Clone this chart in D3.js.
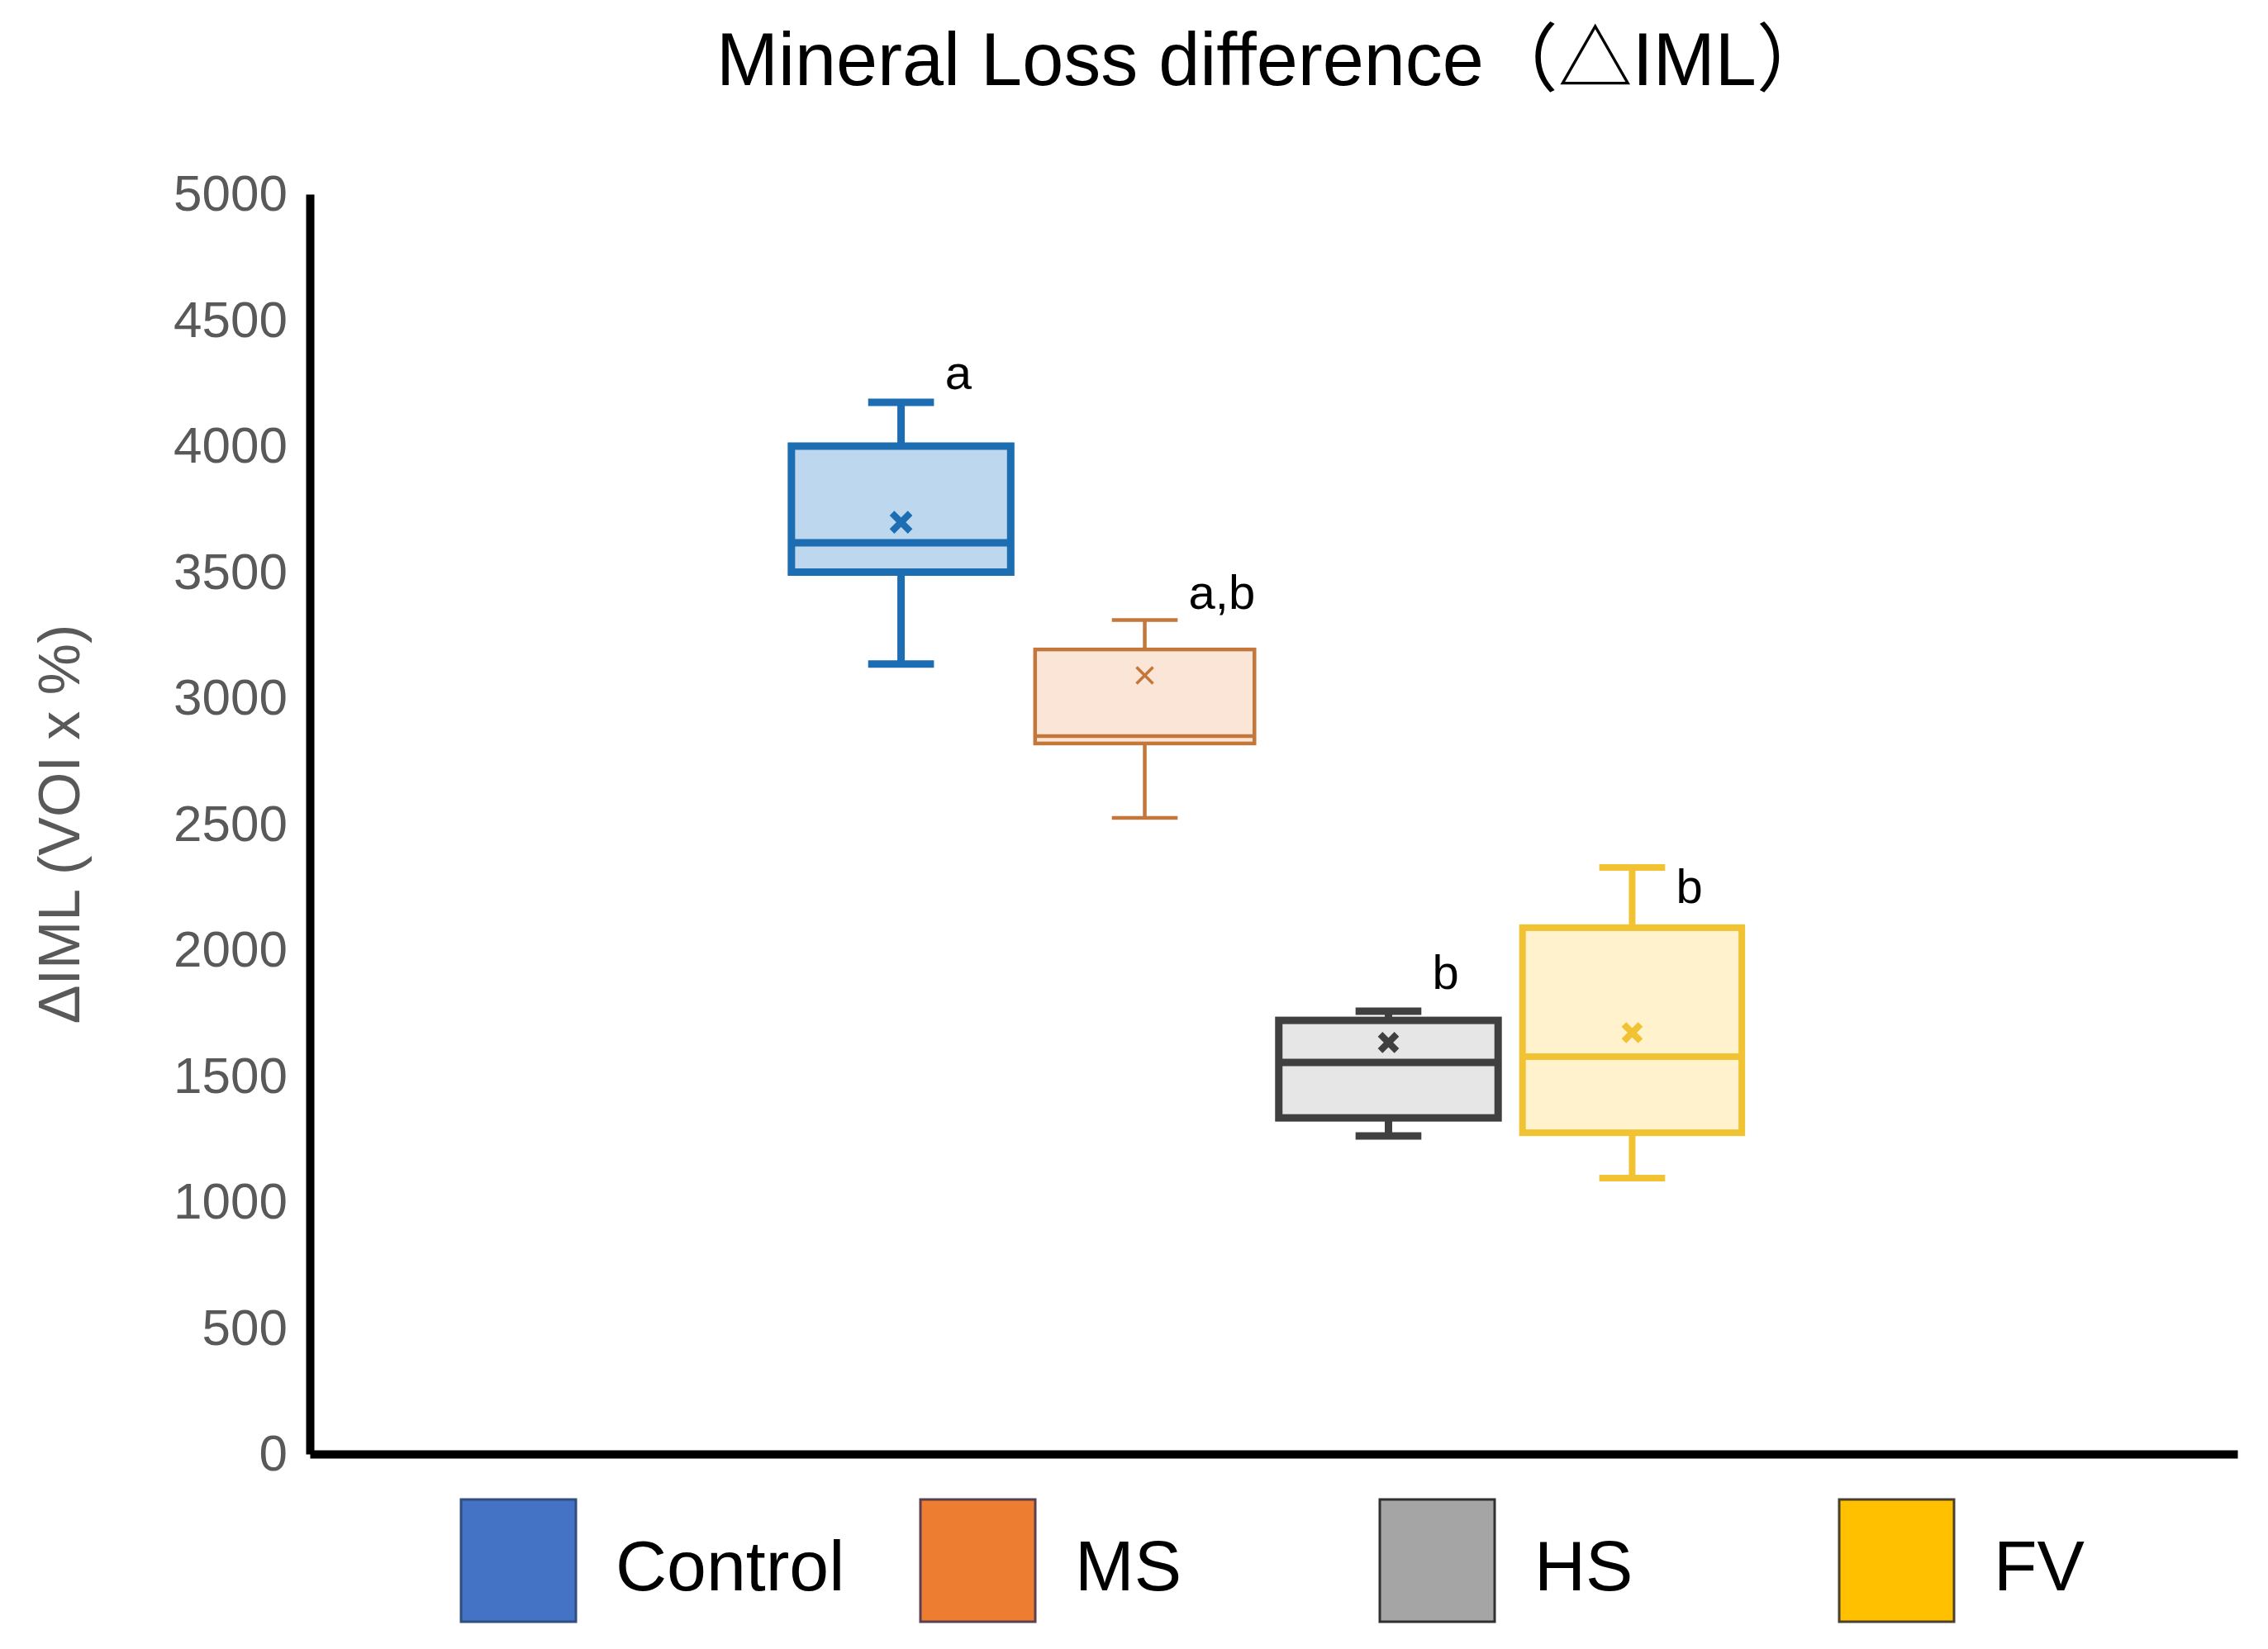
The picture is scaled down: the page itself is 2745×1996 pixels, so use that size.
<!DOCTYPE html>
<html>
<head>
<meta charset="utf-8">
<script src="https://cdn.jsdelivr.net/npm/d3@7"></script>
<style>
  body { margin: 0; background: #fff; }
  text { font-family: "Liberation Sans", Arial, "Noto Sans CJK JP", sans-serif; }
</style>
</head>
<body>
<div id="chart"></div>
<script>
// Box plot values (VOI x %)
const groups = ["Control", "MS", "HS", "FV"];
const whiskerLow = [3135, 2525, 1262, 1095];
const q1Values = [3500, 2820, 1334, 1275];
const medianValues = [3616, 2849, 1554, 1577];
const q3Values = [4000, 3193, 1721, 2089];
const whiskerHigh = [4174, 3310, 1757, 2328];
const meanValues = [3698, 3090, 1633, 1672];

// significance letters and the value where their baseline sits
const sigLetters = ["a", "a,b", "b", "b"];
const sigLevel = [4226, 3354, 1846, 2187];

const yTicks = [0, 500, 1000, 1500, 2000, 2500, 3000, 3500, 4000, 4500, 5000];

// styles
const strokeColors = ["#1c6db2", "#c4773b", "#404040", "#f1c232"];
const fillColors = ["#bdd7ee", "#fbe5d6", "#e7e6e6", "#fff2cc"];
const strokeWidths = [9, 4.5, 9, 8];
const meanWidths = [8, 3.5, 8, 8];
const meanSizes = [11, 10, 10, 10];
const legendColors = ["#4472c4", "#ed7d31", "#a5a5a5", "#ffc000"];
const legendBorders = ["#2f4f80", "#5a4050", "#303030", "#4a4030"];

const width = 2745;
const height = 1996;
const margin = {left: 375, right: 37, top: 235, bottom: 236};

const svg = d3.select("#chart")
  .append("svg")
  .attr("width", width)
  .attr("height", height)
  .style("background", "#fff");

// scales
const yScale = d3.scaleLinear()
  .domain([0, 5000])
  .range([height - margin.bottom, margin.top]);

// the boxes sit a little left of the axis middle
const xScale = d3.scaleBand()
  .domain(groups)
  .range([margin.left, 2691])
  .paddingInner(0.1)
  .paddingOuter(1.976);

const xAxisScale = d3.scaleLinear()
  .range([margin.left, width - margin.right]);

const bw = xScale.bandwidth();

// title
svg.append("text")
  .attr("x", 867)
  .attr("y", 103)
  .attr("font-size", 90)
  .attr("fill", "#000")
  .text("Mineral Loss difference（△IML）");

// y axis
const yAxis = svg.append("g")
  .attr("transform", `translate(${margin.left},0)`)
  .call(d3.axisLeft(yScale)
    .tickValues(yTicks)
    .tickFormat(d3.format("d"))
    .tickSize(0)
    .tickSizeOuter(0)
    .tickPadding(27));
yAxis.select(".domain").attr("stroke", "#000").attr("stroke-width", 10);
yAxis.selectAll("text")
  .attr("font-size", 62)
  .attr("fill", "#595959")
  .attr("font-family", "Liberation Sans, Arial, sans-serif");

// x axis (no labels)
const xAxis = svg.append("g")
  .attr("transform", `translate(0,${height - margin.bottom})`)
  .call(d3.axisBottom(xAxisScale).tickValues([]).tickSizeOuter(0));
xAxis.select(".domain").attr("stroke", "#000").attr("stroke-width", 10);

// y axis label
svg.append("text")
  .attr("transform", `translate(96, ${(margin.top + height - margin.bottom) / 2}) rotate(-90)`)
  .attr("text-anchor", "middle")
  .attr("font-size", 70)
  .attr("fill", "#595959")
  .text("ΔIML (VOI x %)");

// boxes
const boxes = svg.selectAll(".box")
  .data(groups)
  .enter()
  .append("g")
  .attr("class", "box");

boxes.each(function (g, i) {
  const sel = d3.select(this);
  const x0 = xScale(g);
  const cx = x0 + bw / 2;
  const capW = bw * 0.3;
  const sw = strokeWidths[i];
  const col = strokeColors[i];

  // whiskers
  sel.append("line")
    .attr("x1", cx).attr("x2", cx)
    .attr("y1", yScale(whiskerHigh[i])).attr("y2", yScale(q3Values[i]))
    .attr("stroke", col).attr("stroke-width", sw);
  sel.append("line")
    .attr("x1", cx).attr("x2", cx)
    .attr("y1", yScale(q1Values[i])).attr("y2", yScale(whiskerLow[i]))
    .attr("stroke", col).attr("stroke-width", sw);
  [whiskerHigh[i], whiskerLow[i]].forEach((v) => {
    sel.append("line")
      .attr("x1", cx - capW / 2).attr("x2", cx + capW / 2)
      .attr("y1", yScale(v)).attr("y2", yScale(v))
      .attr("stroke", col).attr("stroke-width", sw);
  });

  // box
  sel.append("rect")
    .attr("x", x0)
    .attr("y", yScale(q3Values[i]))
    .attr("width", bw)
    .attr("height", yScale(q1Values[i]) - yScale(q3Values[i]))
    .attr("fill", fillColors[i])
    .attr("stroke", col)
    .attr("stroke-width", sw);

  // median
  sel.append("line")
    .attr("x1", x0).attr("x2", x0 + bw)
    .attr("y1", yScale(medianValues[i])).attr("y2", yScale(medianValues[i]))
    .attr("stroke", col).attr("stroke-width", sw);

  // mean marker (x)
  const my = yScale(meanValues[i]);
  const r = meanSizes[i];
  sel.append("path")
    .attr("d", `M${cx - r},${my - r}L${cx + r},${my + r}M${cx - r},${my + r}L${cx + r},${my - r}`)
    .attr("stroke", col)
    .attr("stroke-width", meanWidths[i])
    .attr("fill", "none");

  // letter
  sel.append("text")
    .attr("x", x0 + bw / 2 + bw * 0.2)
    .attr("y", yScale(sigLevel[i]))
    .attr("font-size", 58)
    .attr("fill", "#000")
    .text(sigLetters[i]);
});

// legend
const legendX = d3.scalePoint()
  .domain(groups)
  .range([558, 2226]);

const legend = svg.selectAll(".legend")
  .data(groups)
  .enter()
  .append("g")
  .attr("class", "legend")
  .attr("transform", (d) => `translate(${legendX(d)},1815)`);

legend.append("rect")
  .attr("width", 139)
  .attr("height", 148)
  .attr("fill", (d, i) => legendColors[i])
  .attr("stroke", (d, i) => legendBorders[i])
  .attr("stroke-width", 3);

legend.append("text")
  .attr("x", 187)
  .attr("y", 110)
  .attr("font-size", 86)
  .attr("fill", "#000")
  .text((d) => d);
</script>
</body>
</html>
